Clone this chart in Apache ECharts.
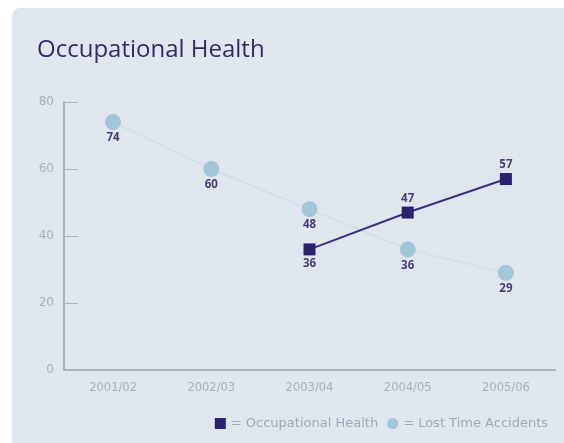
<!DOCTYPE html>
<html>
<head>
<meta charset="utf-8">
<script src="https://cdn.jsdelivr.net/npm/echarts@6/dist/echarts.min.js"></script>
<style>
  html, body { margin: 0; padding: 0; background: #ffffff; }
  #chart { width: 564px; height: 443px; }
</style>
</head>
<body>
<div id="chart"></div>
<script>
// Financial years on the x axis
const years = ['2001/02', '2002/03', '2003/04', '2004/05', '2005/06'];
// Occupational health cases (only reported from 2003/04)
const occupationalHealth = [null, null, 36, 47, 57];
// Lost time accidents
const lostTimeAccidents = [74, 60, 48, 36, 29];
// Value axis ticks
const yTicks = [0, 20, 40, 60, 80];

const ohLabelPos = ['top', 'top', 'bottom', 'top', 'top'];

const chart = echarts.init(document.getElementById('chart'), null, { renderer: 'canvas' });

const axisGrey = '#a9b3bf';
const labelGrey = '#a7b0bc';
const valueInk = '#4a3d78';
const smallFont = 'DejaVu Sans';

chart.setOption({
  backgroundColor: '#ffffff',
  animation: false,
  graphic: [{
    type: 'rect',
    z: -10,
    shape: { x: 12, y: 8, width: 570, height: 450, r: 8 },
    style: { fill: '#dfe6ee' }
  }],
  title: {
    text: 'Occupational Health',
    left: 32,
    top: 33,
    textStyle: {
      fontFamily: 'Open Sans',
      fontWeight: 'normal',
      fontSize: 24,
      color: '#352968'
    }
  },
  legend: {
    right: 11,
    bottom: 8,
    itemGap: 9,
    itemWidth: 11,
    itemHeight: 11,
    formatter: name => '= ' + name,
    textStyle: { fontFamily: smallFont, fontSize: 13, color: '#a0aab7' },
    data: [
      { name: 'Occupational Health', icon: 'rect', itemStyle: { color: '#2b2170' } },
      { name: 'Lost Time Accidents', icon: 'circle', itemStyle: { color: '#9fc7d8' } }
    ]
  },
  grid: { left: 64, right: 9, top: 102, bottom: 73, containLabel: false },
  xAxis: {
    type: 'category',
    data: years,
    boundaryGap: true,
    axisLine: { lineStyle: { color: axisGrey, width: 2 } },
    axisTick: { inside: true, length: 5, lineStyle: { color: axisGrey, width: 1 } },
    axisLabel: { fontFamily: smallFont, fontSize: 11.5, color: labelGrey, margin: 12 }
  },
  yAxis: {
    type: 'value',
    min: yTicks[0],
    max: yTicks[yTicks.length - 1],
    interval: 20,
    splitLine: { show: false },
    axisLine: { show: true, lineStyle: { color: axisGrey, width: 2 } },
    axisTick: { show: true, inside: true, length: 14, lineStyle: { color: axisGrey, width: 1 } },
    axisLabel: { fontFamily: smallFont, fontSize: 12, color: labelGrey, margin: 10 }
  },
  series: [
    {
      name: 'Lost Time Accidents',
      type: 'line',
      data: lostTimeAccidents,
      symbol: 'circle',
      symbolSize: 16,
      itemStyle: { color: '#9fc7d8' },
      lineStyle: { color: '#d5dee9', width: 2 },
      label: {
        show: true,
        position: 'bottom',
        distance: 2,
        fontFamily: 'Open Sans',
        fontSize: 11.5,
        fontWeight: 'bold',
        color: valueInk
      },
      z: 2
    },
    {
      name: 'Occupational Health',
      type: 'line',
      data: occupationalHealth.map((v, i) => ({
        value: v,
        label: { position: ohLabelPos[i] }
      })),
      symbol: 'rect',
      symbolSize: 12,
      itemStyle: { color: '#2b2170' },
      lineStyle: { color: '#3a2f7a', width: 2 },
      label: {
        show: true,
        distance: 2,
        fontFamily: 'Open Sans',
        fontSize: 11.5,
        fontWeight: 'bold',
        color: valueInk
      },
      z: 3
    }
  ]
});
</script>
</body>
</html>
